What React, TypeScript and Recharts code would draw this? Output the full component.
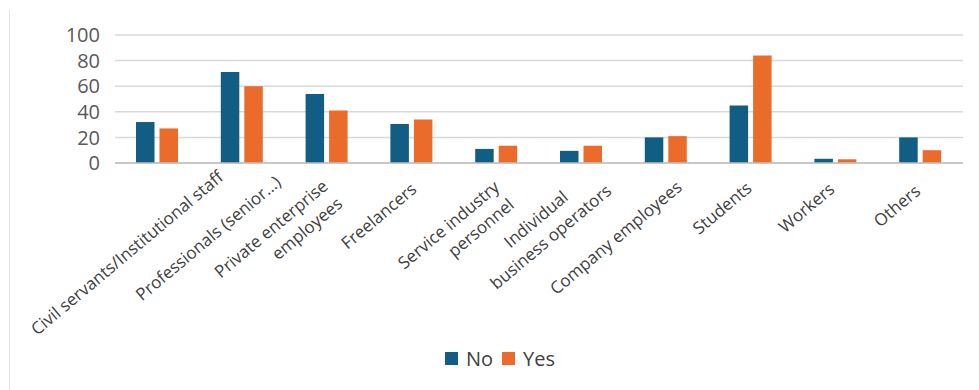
import { Bar, BarChart, CartesianGrid, Legend, XAxis, YAxis } from "recharts"

const categories = [
  "Civil servants/Institutional staff",
  "Professionals (senior…)",
  "Private enterprise\nemployees",
  "Freelancers",
  "Service industry\npersonnel",
  "Individual\nbusiness operators",
  "Company employees",
  "Students",
  "Workers",
  "Others",
]
const noValues = [32, 71, 54, 30.5, 11, 9.5, 20, 45, 3.3, 20]
const yesValues = [27, 60, 41, 34, 13.5, 13.5, 21, 84, 2.9, 10]
const yTicks = [0, 20, 40, 60, 80, 100]

const data = categories.map((name, i) => ({
  name,
  No: noValues[i],
  Yes: yesValues[i],
}))

const NO_COLOR = "#115d84"
const YES_COLOR = "#eb6b2b"
const LABEL_SIZE = 17
const LABEL_FONT = `${LABEL_SIZE}px "Open Sans"`

// per-label nudge of the first line's end point, to follow the original placement
const labelNudge: Array<[number, number]> = [
  [67, -12],
  [40, -7],
  [2, -3],
  [6, 0],
  [4, -2],
  [-12, 8],
  [17, -2],
  [2, -1],
  [0, 0],
  [1, 2],
]

let measureCtx: CanvasRenderingContext2D | null = null
function textWidth(s: string) {
  if (!measureCtx) {
    measureCtx = document.createElement("canvas").getContext("2d")
  }
  if (!measureCtx) return s.length * 8.6
  measureCtx.font = LABEL_FONT
  return measureCtx.measureText(s).width
}

function CategoryTick(props: any) {
  const { x, y, payload, index } = props
  const lines = String(payload.value).split("\n")
  const widths = lines.map(textWidth)
  const centered = widths.slice(1).some((w) => w > widths[0])
  const [nx, ny] = labelNudge[index] ?? [0, 0]
  return (
    <g transform={`translate(${x + nx},${y + 28 + ny}) rotate(-40)`}>
      {lines.map((line, i) => (
        <text
          key={i}
          x={centered ? -widths[0] / 2 + widths[i] / 2 : 0}
          y={i * 23}
          textAnchor="end"
          fill="#404040"
          fontSize={LABEL_SIZE}
          fontFamily='"Open Sans"'
        >
          {line}
        </text>
      ))}
    </g>
  )
}

function LegendContent() {
  const items = [
    { label: "No", color: NO_COLOR },
    { label: "Yes", color: YES_COLOR },
  ]
  return (
    <div
      style={{
        display: "flex",
        justifyContent: "center",
        alignItems: "center",
        height: 30,
        paddingLeft: 46,
        fontFamily: '"Open Sans"',
        fontSize: 20,
        color: "#404040",
      }}
    >
      {items.map((it) => (
        <div key={it.label} style={{ display: "flex", alignItems: "center", marginRight: 9 }}>
          <span
            style={{
              display: "inline-block",
              width: 13,
              height: 13,
              background: it.color,
              marginRight: 8,
            }}
          />
          <span>{it.label}</span>
        </div>
      ))}
    </div>
  )
}

export default function App() {
  return (
    <div
      style={{
        position: "absolute",
        left: 0,
        top: 0,
        width: 979,
        height: 390,
        background: "#fff",
      }}
    >
      <div
        style={{
          position: "absolute",
          left: 9,
          top: 10,
          width: 1,
          height: 380,
          background: "#e4e4e4",
        }}
      />
      <BarChart
        width={979}
        height={390}
        data={data}
        margin={{ top: 35, right: 16, bottom: 17, left: 0 }}
        barGap={5}
        barSize={18.5}
      >
        <CartesianGrid vertical={false} stroke="#d9d9d9" strokeWidth={1.5} />
        <XAxis
          dataKey="name"
          interval={0}
          height={180}
          tickLine={false}
          tickSize={0}
          tickMargin={0}
          axisLine={{ stroke: "#bfbfbf", strokeWidth: 1.5 }}
          tick={<CategoryTick />}
        />
        <YAxis
          width={115}
          domain={[0, 100]}
          ticks={yTicks}
          interval={0}
          axisLine={false}
          tickLine={false}
          tickSize={0}
          tickMargin={15}
          tick={{ fill: "#595959", fontSize: 20, fontFamily: '"Open Sans"' }}
        />
        <Legend verticalAlign="bottom" height={30} content={<LegendContent />} />
        <Bar dataKey="No" fill={NO_COLOR} isAnimationActive={false} />
        <Bar dataKey="Yes" fill={YES_COLOR} isAnimationActive={false} />
      </BarChart>
    </div>
  )
}
